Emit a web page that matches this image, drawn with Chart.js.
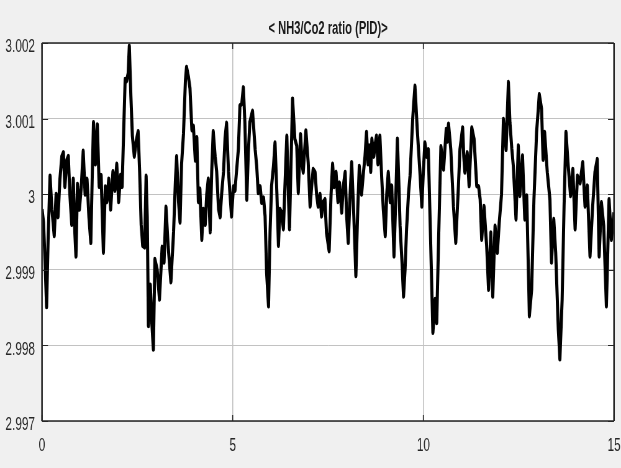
<!DOCTYPE html>
<html>
<head>
<meta charset="utf-8">
<script src="https://cdn.jsdelivr.net/npm/chart.js@4.4.1/dist/chart.umd.min.js"></script>
<style>
  html, body { margin: 0; padding: 0; background: #f0f0f0; overflow: hidden; }
  /* the scope window is drawn wide and narrowed horizontally, giving its condensed lettering */
  #wrap { width: 1000px; height: 468px; transform: scaleX(0.621); transform-origin: 0 0; }
  #scope { display: block; }
</style>
</head>
<body>
<div id="wrap"><canvas id="scope" width="1000" height="468"></canvas></div>
<script>
// Scope trace: NH3/CO2 ratio under PID control, simulation time 0..15
const time = [
  0.00, 0.04, 0.08, 0.12, 0.16, 0.21, 0.26, 0.32, 0.37, 0.42, 0.47, 0.52, 0.56, 0.60, 0.65, 0.69, 0.73, 0.78, 0.82, 0.86,
  0.89, 0.93, 0.98, 1.03, 1.08, 1.13, 1.18, 1.23, 1.28, 1.32, 1.35, 1.40, 1.45, 1.50, 1.55, 1.61, 1.66, 1.70, 1.75, 1.80,
  1.86, 1.91, 1.96, 2.01, 2.06, 2.10, 2.14, 2.18, 2.22, 2.26, 2.29, 2.33, 2.37, 2.42, 2.47, 2.52, 2.56, 2.60, 2.64, 2.69,
  2.73, 2.76, 2.79, 2.84, 2.88, 2.92, 2.96, 3.02, 3.08, 3.15, 3.20, 3.25, 3.31, 3.38, 3.45, 3.50, 3.53, 3.58, 3.62, 3.66,
  3.71, 3.76, 3.79, 3.84, 3.88, 3.93, 3.97, 4.02, 4.06, 4.10, 4.14, 4.19, 4.23, 4.28, 4.32, 4.36, 4.41, 4.45, 4.49, 4.54,
  4.58, 4.63, 4.67, 4.71, 4.76, 4.80, 4.84, 4.89, 4.93, 4.97, 5.02, 5.06, 5.10, 5.15, 5.19, 5.24, 5.28, 5.32, 5.37, 5.41,
  5.45, 5.52, 5.59, 5.63, 5.67, 5.72, 5.76, 5.81, 5.85, 5.89, 5.94, 5.98, 6.02, 6.07, 6.11, 6.16, 6.20, 6.24, 6.28, 6.33,
  6.37, 6.42, 6.46, 6.49, 6.53, 6.57, 6.63, 6.68, 6.72, 6.78, 6.82, 6.85, 6.92, 6.98, 7.03, 7.07, 7.11, 7.16, 7.20, 7.24,
  7.29, 7.33, 7.38, 7.42, 7.46, 7.53, 7.58, 7.62, 7.66, 7.71, 7.76, 7.80, 7.86, 7.90, 7.95, 7.99, 8.03, 8.08, 8.12, 8.18,
  8.23, 8.28, 8.32, 8.38, 8.43, 8.47, 8.51, 8.55, 8.58, 8.62, 8.65, 8.70, 8.73, 8.77, 8.81, 8.86, 8.91, 8.95, 9.00, 9.04,
  9.08, 9.13, 9.17, 9.23, 9.28, 9.32, 9.36, 9.39, 9.44, 9.48, 9.52, 9.56, 9.61, 9.65, 9.72, 9.78, 9.84, 9.91, 9.96, 10.00,
  10.04, 10.09, 10.13, 10.17, 10.21, 10.25, 10.31, 10.35, 10.40, 10.46, 10.53, 10.60, 10.63, 10.66, 10.72, 10.79, 10.85, 10.92, 10.96, 11.03,
  11.06, 11.09, 11.15, 11.20, 11.27, 11.33, 11.40, 11.45, 11.49, 11.53, 11.59, 11.66, 11.71, 11.77, 11.82, 11.88, 11.94, 11.99, 12.05, 12.10,
  12.14, 12.17, 12.23, 12.27, 12.32, 12.36, 12.43, 12.49, 12.53, 12.60, 12.66, 12.71, 12.75, 12.78, 12.84, 12.90, 12.97, 13.01, 13.04, 13.10,
  13.14, 13.18, 13.25, 13.32, 13.36, 13.42, 13.47, 13.54, 13.58, 13.64, 13.69, 13.74, 13.80, 13.86, 13.92, 13.98, 14.04, 14.11, 14.18, 14.24,
  14.30, 14.37, 14.44, 14.50, 14.56, 14.61, 14.67, 14.73, 14.80, 14.87, 14.93, 15.00
];

const ratio = [
  2.99980, 2.99963, 2.99910, 2.99851, 2.99940, 3.00024, 2.99980, 2.99945, 3.00000, 2.99970, 3.00020, 3.00050, 3.00055, 3.00010, 3.00045, 3.00050, 3.00000, 2.99960, 3.00020, 2.99950,
  2.99918, 3.00013, 2.99980, 3.00010, 3.00057, 3.00000, 3.00020, 2.99970, 2.99936, 3.00030, 3.00095, 3.00040, 3.00092, 3.00010, 3.00025, 2.99923, 3.00010, 2.99990, 3.00020, 2.99980,
  3.00030, 3.00005, 3.00040, 2.99990, 3.00025, 3.00010, 3.00080, 3.00152, 3.00150, 3.00160, 3.00196, 3.00130, 3.00077, 3.00050, 3.00070, 3.00083, 3.00030, 2.99960, 2.99932, 2.99930,
  3.00024, 2.99970, 2.99826, 2.99880, 2.99830, 2.99795, 2.99914, 2.99900, 2.99861, 2.99930, 2.99910, 2.99983, 2.99930, 2.99884, 2.99950, 3.00020, 3.00050, 2.99990, 2.99963, 3.00040,
  3.00080, 3.00150, 3.00168, 3.00155, 3.00140, 3.00085, 3.00090, 3.00045, 3.00075, 2.99990, 3.00007, 2.99940, 2.99980, 2.99960, 3.00000, 3.00020, 2.99950, 3.00030, 3.00083, 3.00050,
  3.00030, 2.99980, 2.99970, 3.00000, 3.00030, 3.00074, 3.00094, 3.00030, 3.00000, 2.99971, 3.00010, 3.00005, 3.00030, 3.00060, 3.00117, 3.00120, 3.00141, 3.00095, 2.99993, 3.00055,
  3.00095, 3.00110, 3.00059, 3.00037, 3.00002, 3.00010, 2.99989, 2.99995, 2.99971, 2.99896, 2.99852, 2.99950, 3.00011, 3.00037, 3.00068, 3.00000, 2.99932, 2.99980, 2.99976, 2.99954,
  3.00010, 3.00077, 3.00000, 2.99954, 3.00040, 3.00126, 3.00073, 3.00064, 3.00002, 3.00079, 3.00040, 3.00029, 3.00084, 3.00042, 2.99984, 3.00010, 3.00033, 3.00029, 3.00000, 2.99984,
  3.00000, 2.99971, 2.99990, 2.99993, 2.99949, 2.99925, 3.00000, 3.00040, 3.00010, 3.00029, 2.99990, 3.00015, 2.99976, 3.00010, 3.00029, 2.99970, 2.99936, 3.00000, 3.00042, 2.99967,
  2.99892, 2.99980, 3.00037, 3.00000, 3.00029, 3.00050, 3.00082, 3.00040, 3.00064, 3.00030, 3.00073, 3.00050, 3.00064, 3.00077, 3.00040, 3.00077, 3.00020, 2.99980, 2.99945, 3.00000,
  3.00029, 2.99990, 3.00011, 2.99918, 3.00000, 3.00073, 3.00010, 2.99958, 2.99910, 2.99865, 2.99900, 2.99954, 3.00000, 3.00024, 3.00099, 3.00143, 3.00086, 3.00029, 2.99984, 3.00030,
  3.00068, 3.00050, 3.00059, 2.99980, 2.99900, 2.99817, 2.99861, 2.99830, 2.99940, 3.00063, 3.00033, 3.00086, 3.00070, 3.00093, 3.00059, 2.99984, 2.99936, 3.00011, 3.00059, 3.00088,
  3.00050, 3.00029, 3.00055, 3.00011, 3.00088, 3.00073, 3.00011, 3.00010, 2.99993, 2.99940, 2.99984, 2.99932, 2.99874, 2.99949, 2.99865, 2.99958, 2.99923, 2.99962, 3.00000, 3.00099,
  3.00080, 3.00059, 3.00148, 3.00095, 3.00060, 3.00037, 2.99967, 3.00064, 2.99998, 3.00051, 2.99967, 2.99998, 2.99910, 2.99839, 2.99874, 2.99993, 3.00082, 3.00110, 3.00132, 3.00113,
  3.00046, 3.00082, 3.00029, 2.99993, 2.99910, 2.99967, 2.99923, 2.99821, 2.99782, 2.99861, 2.99984, 3.00082, 3.00037, 2.99998, 3.00033, 2.99954, 3.00024, 3.00015, 3.00042, 2.99984,
  3.00011, 2.99918, 2.99984, 3.00029, 3.00046, 2.99918, 2.99989, 2.99958, 2.99852, 2.99993, 2.99940, 2.99976
];

const titleText = '< NH3/Co2 ratio (PID)>';
const timeRange = [0, 15];
const timeStep = 5;
const ratioRange = [2.997, 3.002];
const ratioStep = 0.001;

// horizontal squeeze applied to the wrapper (see CSS); strokes that run vertically are widened by 1/SQ
const SQ = 0.621;
const labelFont = "'Liberation Sans', Arial, sans-serif";

// White axes background, inward tick marks on all four sides and a dark frame
const scopeFrame = {
  id: 'scopeFrame',
  beforeDraw(chart) {
    const { ctx, chartArea: a } = chart;
    ctx.save();
    ctx.fillStyle = '#ffffff';
    ctx.fillRect(a.left, a.top, a.right - a.left, a.bottom - a.top);
    ctx.restore();
  },
  afterDatasetsDraw(chart) {
    const { ctx, chartArea: a, scales } = chart;
    const len = 6;
    ctx.save();
    ctx.strokeStyle = '#262626';
    // ticks on the ratio axis (horizontal strokes)
    ctx.lineWidth = 1;
    ctx.beginPath();
    scales.y.ticks.forEach(t => {
      const y = Math.round(scales.y.getPixelForValue(t.value)) + 0.5;
      ctx.moveTo(a.left, y); ctx.lineTo(a.left + len / SQ, y);
      ctx.moveTo(a.right - len / SQ, y); ctx.lineTo(a.right, y);
    });
    ctx.stroke();
    // ticks on the time axis (vertical strokes)
    ctx.lineWidth = 1 / SQ;
    ctx.beginPath();
    scales.x.ticks.forEach(t => {
      const x = scales.x.getPixelForValue(t.value);
      ctx.moveTo(x, a.bottom); ctx.lineTo(x, a.bottom - len);
      ctx.moveTo(x, a.top); ctx.lineTo(x, a.top + len);
    });
    ctx.stroke();
    // frame
    ctx.lineWidth = 1.6;
    ctx.beginPath();
    ctx.moveTo(a.left, a.top); ctx.lineTo(a.right, a.top);
    ctx.moveTo(a.left, a.bottom); ctx.lineTo(a.right, a.bottom);
    ctx.stroke();
    ctx.lineWidth = 1.6 / SQ;
    ctx.beginPath();
    ctx.moveTo(a.left, a.top); ctx.lineTo(a.left, a.bottom);
    ctx.moveTo(a.right, a.top); ctx.lineTo(a.right, a.bottom);
    ctx.stroke();
    ctx.restore();
  }
};

new Chart(document.getElementById('scope'), {
  type: 'line',
  data: {
    datasets: [{
      data: time.map((t, i) => ({ x: t, y: ratio[i] })),
      borderColor: '#000000',
      borderWidth: 5,
      borderJoinStyle: 'round',
      pointRadius: 0,
      tension: 0,
      fill: false
    }]
  },
  options: {
    responsive: false,
    animation: false,
    events: [],
    layout: { padding: { left: 0, right: 7 / SQ, top: 0, bottom: 0 } },
    plugins: {
      legend: { display: false },
      tooltip: { enabled: false },
      title: {
        display: true,
        fullSize: false,
        text: titleText,
        color: '#1a1a1a',
        font: { family: labelFont, size: 18, weight: 'bold', lineHeight: 1.2 },
        padding: { top: 18, bottom: 3.4 }
      }
    },
    scales: {
      x: {
        type: 'linear',
        min: timeRange[0],
        max: timeRange[1],
        border: { display: false },
        grid: { color: '#c2c2c2', lineWidth: 1 / SQ, drawTicks: false },
        ticks: {
          stepSize: timeStep,
          padding: 13,
          color: '#262626',
          font: { family: labelFont, size: 19 },
          maxRotation: 0,
          callback: v => String(v)
        },
        afterFit(scale) {
          scale.height = 47;
          scale.paddingLeft = 0;
          scale.paddingRight = 0;
        }
      },
      y: {
        type: 'linear',
        min: ratioRange[0],
        max: ratioRange[1],
        border: { display: false },
        grid: { color: '#c2c2c2', lineWidth: 1, drawTicks: false },
        ticks: {
          stepSize: ratioStep,
          padding: 7 / SQ,
          labelOffset: 4,
          color: '#262626',
          font: { family: labelFont, size: 19 },
          callback: v => String(+Number(v).toFixed(3))
        },
        afterFit(scale) {
          scale.width = 42 / SQ;
          scale.paddingTop = 0;
          scale.paddingBottom = 0;
        }
      }
    }
  },
  plugins: [scopeFrame]
});
</script>
</body>
</html>
